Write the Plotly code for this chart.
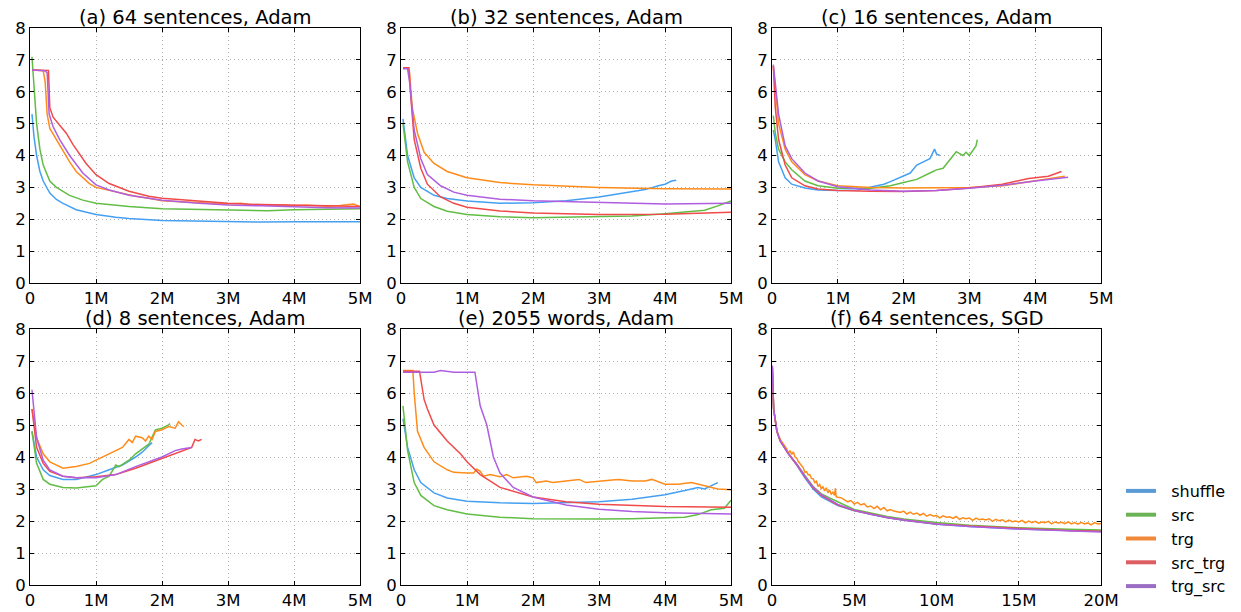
import plotly.graph_objects as go

# ---------------- data (x in millions of words, y = loss) ----------------
NAMES = ["shuffle", "src", "trg", "src_trg", "trg_src"]
COLORS = ["#45a0f2", "#62bd45", "#ff8c1a", "#f04a4a", "#b05ee0"]
LEGEND_COLORS = ["#5b9bd5", "#6cb356", "#f0893a", "#dc5d62", "#9a6cc2"]

TITLES = ["(a) 64 sentences, Adam", "(b) 32 sentences, Adam", "(c) 16 sentences, Adam",
          "(d) 8 sentences, Adam", "(e) 2055 words, Adam", "(f) 64 sentences, SGD"]

# (a) 64 sentences, Adam
a_shuffle_x = [0.03, 0.06, 0.1, 0.15, 0.2, 0.3, 0.4, 0.5, 0.7, 1.0, 1.3, 1.5, 2.0, 2.5, 3.0, 3.5, 4.0, 4.5, 5.0]
a_shuffle_y = [5.3, 4.6, 4.0, 3.5, 3.2, 2.82, 2.62, 2.5, 2.3, 2.15, 2.06, 2.02, 1.96, 1.94, 1.92, 1.91, 1.92, 1.92, 1.92]
a_src_x = [0.03, 0.06, 0.1, 0.15, 0.2, 0.3, 0.4, 0.6, 0.8, 1.0, 1.5, 2.0, 2.5, 3.0, 3.6, 4.0, 4.5, 5.0]
a_src_y = [7.1, 6.2, 5.0, 4.2, 3.7, 3.2, 3.0, 2.75, 2.6, 2.5, 2.4, 2.33, 2.31, 2.3, 2.27, 2.3, 2.31, 2.33]
a_trg_x = [0.03, 0.1, 0.2, 0.23, 0.26, 0.3, 0.4, 0.5, 0.6, 0.7, 0.8, 0.9, 1.0, 1.2, 1.4, 1.6, 1.8, 2.0, 2.3, 2.6, 3.0, 3.2, 3.3, 3.5, 3.8, 4.0, 4.2, 4.5, 4.7, 4.9, 5.0]
a_trg_y = [6.68, 6.67, 6.66, 6.3, 5.3, 4.85, 4.5, 4.15, 3.8, 3.5, 3.3, 3.12, 3.0, 2.9, 2.82, 2.72, 2.66, 2.58, 2.55, 2.52, 2.48, 2.5, 2.46, 2.44, 2.45, 2.42, 2.44, 2.41, 2.43, 2.48, 2.4]
a_srctrg_x = [0.03, 0.15, 0.28, 0.3, 0.35, 0.45, 0.55, 0.65, 0.75, 0.85, 1.0, 1.2, 1.5, 1.8, 2.0, 2.5, 3.0, 3.5, 4.0, 4.5, 5.0]
a_srctrg_y = [6.68, 6.67, 6.67, 5.5, 5.2, 4.95, 4.7, 4.35, 4.05, 3.75, 3.4, 3.12, 2.88, 2.72, 2.66, 2.58, 2.5, 2.46, 2.43, 2.42, 2.4]
a_trgsrc_x = [0.03, 0.15, 0.22, 0.26, 0.29, 0.35, 0.45, 0.6, 0.8, 1.0, 1.2, 1.5, 2.0, 2.5, 3.0, 3.5, 4.0, 4.5, 5.0]
a_trgsrc_y = [6.68, 6.67, 6.66, 6.6, 5.3, 4.9, 4.5, 4.0, 3.45, 3.08, 2.92, 2.75, 2.6, 2.51, 2.45, 2.42, 2.38, 2.36, 2.35]

# (b) 32 sentences, Adam
b_shuffle_x = [0.03, 0.1, 0.2, 0.3, 0.5, 0.7, 1.0, 1.5, 2.0, 2.5, 3.0, 3.5, 3.7, 3.9, 4.0, 4.1, 4.17]
b_shuffle_y = [5.15, 4.0, 3.3, 3.0, 2.75, 2.65, 2.57, 2.5, 2.52, 2.58, 2.7, 2.85, 2.93, 3.05, 3.1, 3.2, 3.22]
b_src_x = [0.03, 0.1, 0.2, 0.3, 0.5, 0.7, 1.0, 1.5, 2.0, 2.5, 3.0, 3.5, 4.0, 4.3, 4.6, 4.8, 5.0]
b_src_y = [5.0, 3.8, 3.0, 2.65, 2.4, 2.25, 2.15, 2.08, 2.05, 2.06, 2.08, 2.1, 2.17, 2.22, 2.28, 2.42, 2.57]
b_trg_x = [0.03, 0.1, 0.13, 0.17, 0.25, 0.35, 0.5, 0.7, 1.0, 1.5, 2.0, 2.5, 3.0, 4.0, 5.0]
b_trg_y = [6.75, 6.75, 6.6, 5.5, 4.7, 4.1, 3.75, 3.5, 3.3, 3.15, 3.08, 3.03, 3.0, 2.96, 2.95]
b_srctrg_x = [0.03, 0.12, 0.15, 0.2, 0.3, 0.4, 0.6, 0.8, 1.0, 1.3, 1.5, 2.0, 2.5, 3.0, 4.0, 5.0]
b_srctrg_y = [6.75, 6.75, 5.8, 4.5, 3.6, 3.1, 2.7, 2.5, 2.38, 2.32, 2.26, 2.2, 2.17, 2.15, 2.16, 2.22]
b_trgsrc_x = [0.03, 0.1, 0.13, 0.2, 0.3, 0.4, 0.6, 0.8, 1.0, 1.5, 2.0, 2.5, 3.0, 4.0, 5.0]
b_trgsrc_y = [6.72, 6.72, 6.3, 4.8, 3.9, 3.4, 3.05, 2.85, 2.75, 2.63, 2.58, 2.55, 2.52, 2.48, 2.5]

# (c) 16 sentences, Adam
c_shuffle_x = [0.02, 0.05, 0.1, 0.2, 0.3, 0.5, 0.7, 1.0, 1.3, 1.5, 1.7, 1.8, 2.0, 2.1, 2.2, 2.3, 2.4, 2.47, 2.5, 2.55]
c_shuffle_y = [4.8, 4.5, 3.8, 3.3, 3.1, 2.98, 2.92, 2.9, 2.92, 3.02, 3.1, 3.18, 3.35, 3.45, 3.7, 3.8, 3.9, 4.2, 4.05, 4.0]
c_src_x = [0.02, 0.05, 0.1, 0.2, 0.3, 0.5, 0.7, 1.0, 1.5, 1.8, 2.0, 2.2, 2.4, 2.5, 2.6, 2.7, 2.8, 2.9, 2.95, 3.0, 3.1, 3.12]
c_src_y = [5.25, 4.7, 4.2, 3.8, 3.55, 3.2, 3.05, 2.97, 2.97, 3.05, 3.15, 3.25, 3.45, 3.55, 3.6, 3.85, 4.12, 4.0, 4.1, 4.0, 4.3, 4.5]
c_trg_x = [0.02, 0.1, 0.2, 0.3, 0.5, 0.7, 1.0, 1.5, 2.0, 2.5, 3.0, 3.5, 4.0, 4.3, 4.45]
c_trg_y = [6.8, 5.0, 4.2, 3.8, 3.4, 3.2, 3.05, 3.0, 2.98, 2.98, 3.0, 3.05, 3.2, 3.3, 3.35]
c_srctrg_x = [0.02, 0.05, 0.1, 0.2, 0.3, 0.5, 0.7, 1.0, 1.5, 2.0, 2.5, 3.0, 3.5, 3.9, 4.2, 4.35, 4.4]
c_srctrg_y = [6.8, 5.5, 4.5, 3.7, 3.3, 3.05, 2.95, 2.9, 2.88, 2.87, 2.9, 2.98, 3.1, 3.28, 3.35, 3.45, 3.5]
c_trgsrc_x = [0.02, 0.1, 0.2, 0.3, 0.5, 0.7, 1.0, 1.5, 2.0, 2.5, 3.0, 3.5, 4.0, 4.5]
c_trgsrc_y = [6.85, 5.3, 4.3, 3.9, 3.45, 3.2, 3.02, 2.92, 2.88, 2.9, 2.97, 3.07, 3.2, 3.32]

# (d) 8 sentences, Adam
d_shuffle_x = [0.03, 0.1, 0.2, 0.3, 0.5, 0.7, 0.9, 1.0, 1.2, 1.4, 1.6, 1.7, 1.8, 1.85]
d_shuffle_y = [4.8, 4.0, 3.6, 3.42, 3.3, 3.3, 3.4, 3.45, 3.6, 3.75, 4.0, 4.15, 4.35, 4.45]
d_src_x = [0.03, 0.1, 0.2, 0.3, 0.5, 0.7, 1.0, 1.1, 1.2, 1.3, 1.35, 1.5, 1.6, 1.8, 1.9, 2.0, 2.05, 2.1, 2.12]
d_src_y = [4.8, 3.8, 3.3, 3.15, 3.05, 3.03, 3.1, 3.3, 3.4, 3.75, 3.7, 3.9, 4.1, 4.4, 4.85, 4.9, 4.95, 5.0, 5.05]
d_trg_x = [0.03, 0.1, 0.2, 0.3, 0.5, 0.7, 0.9, 1.0, 1.2, 1.4, 1.5, 1.55, 1.6, 1.7, 1.75, 1.8, 1.85, 1.9, 2.0, 2.1, 2.2, 2.25, 2.3, 2.33]
d_trg_y = [5.5, 4.6, 4.1, 3.85, 3.65, 3.7, 3.8, 3.9, 4.1, 4.3, 4.55, 4.45, 4.65, 4.6, 4.5, 4.65, 4.55, 4.8, 4.85, 4.95, 4.9, 5.1, 5.0, 4.95]
d_srctrg_x = [0.03, 0.1, 0.2, 0.3, 0.5, 0.7, 1.0, 1.3, 1.6, 1.8, 2.0, 2.2, 2.4, 2.45, 2.5, 2.55, 2.6]
d_srctrg_y = [5.5, 4.3, 3.8, 3.55, 3.4, 3.35, 3.38, 3.45, 3.65, 3.8, 3.95, 4.1, 4.25, 4.3, 4.55, 4.5, 4.55]
d_trgsrc_x = [0.03, 0.1, 0.2, 0.3, 0.5, 0.7, 1.0, 1.3, 1.6, 1.8, 2.0, 2.2, 2.3, 2.45]
d_trgsrc_y = [6.1, 4.6, 3.9, 3.6, 3.4, 3.35, 3.35, 3.45, 3.7, 3.85, 4.0, 4.2, 4.25, 4.3]

# (e) 2055 words, Adam
e_shuffle_x = [0.03, 0.1, 0.2, 0.3, 0.5, 0.7, 1.0, 1.5, 2.0, 2.5, 3.0, 3.5, 4.0, 4.3, 4.5, 4.6, 4.8]
e_shuffle_y = [5.2, 4.3, 3.6, 3.2, 2.88, 2.72, 2.62, 2.57, 2.55, 2.57, 2.6, 2.68, 2.82, 2.95, 3.05, 3.0, 3.2]
e_src_x = [0.03, 0.1, 0.2, 0.3, 0.5, 0.7, 1.0, 1.5, 2.0, 2.5, 3.0, 3.5, 4.0, 4.3, 4.5, 4.7, 4.9, 5.0]
e_src_y = [5.6, 4.2, 3.2, 2.8, 2.48, 2.35, 2.22, 2.12, 2.07, 2.06, 2.06, 2.07, 2.1, 2.12, 2.2, 2.35, 2.4, 2.65]
e_trg_x = [0.03, 0.18, 0.2, 0.25, 0.35, 0.5, 0.7, 0.8, 1.0, 1.1, 1.15, 1.2, 1.25, 1.35, 1.5, 1.6, 1.7, 1.9, 2.0, 2.05, 2.2, 2.3, 2.5, 2.7, 2.8, 3.0, 3.2, 3.3, 3.5, 3.7, 3.8, 4.0, 4.2, 4.4, 4.6, 4.8, 5.0]
e_trg_y = [6.7, 6.7, 6.0, 4.8, 4.3, 3.85, 3.6, 3.52, 3.5, 3.5, 3.62, 3.55, 3.4, 3.45, 3.38, 3.45, 3.35, 3.4, 3.35, 3.2, 3.25, 3.2, 3.25, 3.3, 3.2, 3.25, 3.28, 3.3, 3.25, 3.25, 3.3, 3.15, 3.15, 3.2, 3.1, 3.0, 2.98]
e_srctrg_x = [0.03, 0.28, 0.35, 0.4, 0.5, 0.7, 0.9, 1.0, 1.2, 1.5, 2.0, 2.5, 3.0, 3.5, 4.0, 5.0]
e_srctrg_y = [6.68, 6.68, 5.8, 5.5, 5.0, 4.5, 4.1, 3.85, 3.45, 3.05, 2.75, 2.6, 2.52, 2.48, 2.45, 2.43]
e_trgsrc_x = [0.03, 0.5, 0.6, 0.8, 1.12, 1.2, 1.3, 1.4, 1.5, 1.7, 2.0, 2.5, 3.0, 3.5, 4.0, 4.5, 5.0]
e_trgsrc_y = [6.65, 6.65, 6.7, 6.65, 6.65, 5.6, 5.0, 4.0, 3.5, 3.05, 2.75, 2.5, 2.37, 2.3, 2.26, 2.24, 2.22]

# (f) 64 sentences, SGD
f_shuffle_x = [0.02, 0.1, 0.3, 0.5, 1.0, 1.5, 2.0, 2.5, 3.0, 4.0, 5.0, 6.0, 7.0, 8.0, 10.0, 12.0, 15.0, 18.0, 20.0]
f_shuffle_y = [6.8, 5.5, 4.8, 4.5, 4.1, 3.75, 3.35, 3.0, 2.75, 2.48, 2.32, 2.2, 2.1, 2.02, 1.9, 1.83, 1.75, 1.7, 1.68]
f_src_x = [0.02, 0.1, 0.3, 0.5, 1.0, 1.5, 2.0, 2.5, 3.0, 3.5, 5.0, 6.0, 7.0, 8.0, 10.0, 12.0, 15.0, 18.0, 20.0]
f_src_y = [6.8, 5.5, 4.8, 4.5, 4.1, 3.78, 3.42, 3.08, 2.85, 2.72, 2.36, 2.24, 2.14, 2.06, 1.95, 1.87, 1.79, 1.74, 1.72]
f_trg_x = [0.02, 0.1, 0.3, 0.5, 0.7, 0.8, 0.9, 1.0, 1.1, 1.2, 1.3, 1.4, 1.5, 1.6, 1.7, 1.8, 1.9, 2.0, 2.1, 2.2, 2.3, 2.4, 2.5, 2.6, 2.7, 2.8, 2.9, 3.0, 3.1, 3.2, 3.3, 3.4, 3.5, 3.6, 3.7, 3.8, 3.85, 3.9, 4.0, 4.2, 4.4, 4.6, 4.8, 5.0, 5.2, 5.4, 5.6, 5.8, 6.0, 6.2, 6.4, 6.6, 6.8, 7.0, 7.2, 7.4, 7.6, 7.8, 8.0, 8.2, 8.4, 8.6, 8.8, 9.0, 9.2, 9.4, 9.6, 9.8, 10.0, 10.2, 10.4, 10.6, 10.8, 11.0, 11.2, 11.4, 11.6, 11.8, 12.0, 12.2, 12.4, 12.6, 12.8, 13.0, 13.2, 13.4, 13.6, 13.8, 14.0, 14.2, 14.4, 14.6, 14.8, 15.0, 15.2, 15.4, 15.6, 15.8, 16.0, 16.2, 16.4, 16.6, 16.8, 17.0, 17.2, 17.4, 17.6, 17.8, 18.0, 18.2, 18.4, 18.6, 18.8, 19.0, 19.2, 19.4, 19.6, 19.8, 20.0]
f_trg_y = [6.85, 5.5, 4.8, 4.55, 4.4, 4.32, 4.25, 4.12, 4.2, 4.08, 4.16, 4.0, 3.96, 3.86, 3.8, 3.72, 3.66, 3.52, 3.54, 3.44, 3.45, 3.33, 3.32, 3.2, 3.24, 3.08, 3.14, 3.0, 3.08, 2.94, 3.04, 2.88, 2.97, 2.84, 2.9, 2.8, 3.02, 2.76, 2.74, 2.73, 2.66, 2.6, 2.64, 2.53, 2.58, 2.5, 2.54, 2.44, 2.47, 2.39, 2.46, 2.35, 2.42, 2.32, 2.36, 2.31, 2.29, 2.27, 2.31, 2.22, 2.28, 2.21, 2.25, 2.18, 2.24, 2.15, 2.2, 2.16, 2.17, 2.1, 2.16, 2.12, 2.13, 2.08, 2.14, 2.05, 2.1, 2.07, 2.09, 2.02, 2.09, 2.04, 2.06, 2.03, 2.07, 1.99, 2.05, 2.01, 2.04, 1.97, 2.03, 1.98, 2.0, 1.97, 2.02, 1.94, 2.0, 1.95, 1.99, 1.93, 1.97, 1.95, 1.99, 1.91, 1.97, 1.94, 1.96, 1.92, 1.97, 1.91, 1.95, 1.9, 1.96, 1.91, 1.94, 1.88, 1.95, 1.91, 1.92]
f_srctrg_x = [0.02, 0.1, 0.3, 0.5, 1.0, 1.5, 2.0, 2.5, 3.0, 4.0, 5.0, 6.0, 7.0, 8.0, 10.0, 12.0, 15.0, 18.0, 20.0]
f_srctrg_y = [6.8, 5.5, 4.8, 4.5, 4.1, 3.76, 3.38, 3.04, 2.8, 2.5, 2.33, 2.21, 2.11, 2.03, 1.91, 1.84, 1.76, 1.7, 1.68]
f_trgsrc_x = [0.02, 0.1, 0.3, 0.5, 1.0, 1.5, 2.0, 2.5, 3.0, 4.0, 5.0, 6.0, 7.0, 8.0, 10.0, 12.0, 15.0, 18.0, 20.0]
f_trgsrc_y = [6.85, 5.5, 4.8, 4.5, 4.1, 3.78, 3.4, 3.06, 2.82, 2.52, 2.34, 2.21, 2.11, 2.03, 1.91, 1.83, 1.75, 1.69, 1.66]

PANELS = [
    [(a_shuffle_x, a_shuffle_y), (a_src_x, a_src_y), (a_trg_x, a_trg_y), (a_srctrg_x, a_srctrg_y), (a_trgsrc_x, a_trgsrc_y)],
    [(b_shuffle_x, b_shuffle_y), (b_src_x, b_src_y), (b_trg_x, b_trg_y), (b_srctrg_x, b_srctrg_y), (b_trgsrc_x, b_trgsrc_y)],
    [(c_shuffle_x, c_shuffle_y), (c_src_x, c_src_y), (c_trg_x, c_trg_y), (c_srctrg_x, c_srctrg_y), (c_trgsrc_x, c_trgsrc_y)],
    [(d_shuffle_x, d_shuffle_y), (d_src_x, d_src_y), (d_trg_x, d_trg_y), (d_srctrg_x, d_srctrg_y), (d_trgsrc_x, d_trgsrc_y)],
    [(e_shuffle_x, e_shuffle_y), (e_src_x, e_src_y), (e_trg_x, e_trg_y), (e_srctrg_x, e_srctrg_y), (e_trgsrc_x, e_trgsrc_y)],
    [(f_shuffle_x, f_shuffle_y), (f_src_x, f_src_y), (f_trg_x, f_trg_y), (f_srctrg_x, f_srctrg_y), (f_trgsrc_x, f_trgsrc_y)],
]

X_TICKS_5M = [0, 1, 2, 3, 4, 5]
X_TICKTEXT_5M = ["0", "1M", "2M", "3M", "4M", "5M"]
X_TICKS_20M = [0, 5, 10, 15, 20]
X_TICKTEXT_20M = ["0", "5M", "10M", "15M", "20M"]
Y_TICKS = [0, 1, 2, 3, 4, 5, 6, 7, 8]

# ---------------- layout ----------------
W, H = 1241, 612
FONT = "DejaVu Sans"
x_px = [(30, 360), (401, 731), (772, 1101)]
y_px = [(28, 283), (329, 585)]

fig = go.Figure()
layout = dict(
    width=W, height=H, margin=dict(l=0, r=0, t=0, b=0, autoexpand=False),
    paper_bgcolor="white", plot_bgcolor="white",
    font=dict(family=FONT, size=16, color="black"),
    showlegend=True,
)
annotations = []
for i in range(6):
    r, c = divmod(i, 3)
    n = i + 1
    xa = "xaxis" if n == 1 else f"xaxis{n}"
    ya = "yaxis" if n == 1 else f"yaxis{n}"
    xref = "x" if n == 1 else f"x{n}"
    yref = "y" if n == 1 else f"y{n}"
    xd = [x_px[c][0] / W, x_px[c][1] / W]
    yd = [1 - y_px[r][1] / H, 1 - y_px[r][0] / H]
    if i == 5:
        tv, tt, rng = X_TICKS_20M, X_TICKTEXT_20M, [0, 20]
    else:
        tv, tt, rng = X_TICKS_5M, X_TICKTEXT_5M, [0, 5]
    common = dict(showline=True, linecolor="black", linewidth=1, mirror="ticks",
                  ticks="inside", ticklen=4, tickcolor="black",
                  showgrid=True, gridcolor="#b0b0b0", griddash="1px,3px", gridwidth=1,
                  zeroline=False, automargin=False,
                  tickfont=dict(family=FONT, size=16.5, color="black"))
    layout[xa] = dict(domain=xd, range=rng, tickmode="array", tickvals=tv, ticktext=tt,
                      anchor=yref, ticklabelstandoff=0, **common)
    layout[ya] = dict(domain=yd, range=[0, 8], tickmode="array", tickvals=Y_TICKS,
                      anchor=xref, ticklabelstandoff=0, **common)
    annotations.append(dict(text=TITLES[i], x=(xd[0] + xd[1]) / 2, y=yd[1], xref="paper", yref="paper",
                            xanchor="center", yanchor="bottom", yshift=-3, showarrow=False,
                            font=dict(family=FONT, size=19.5, color="black")))
    for k, (xs, ys) in enumerate(PANELS[i]):
        fig.add_trace(go.Scatter(x=xs, y=ys, mode="lines", xaxis=xref, yaxis=yref,
                                 line=dict(color=COLORS[k], width=1.5), showlegend=False,
                                 name=NAMES[k]))

# legend-only traces
for k in range(5):
    fig.add_trace(go.Scatter(x=[None], y=[None], mode="lines", name="\u00a0\u00a0" + NAMES[k],
                             legendgroup=NAMES[k],
                             line=dict(color=LEGEND_COLORS[k], width=4), showlegend=True,
                             xaxis="x6", yaxis="y6"))

layout["legend"] = dict(x=1121 / W, y=1 - 474 / H, xanchor="left", yanchor="top",
                        font=dict(family=FONT, size=16, color="black"),
                        bgcolor="rgba(0,0,0,0)", borderwidth=0, tracegroupgap=0,
                        itemwidth=30)
layout["annotations"] = annotations
fig.update_layout(**layout)
fig.write_html("out.html")
